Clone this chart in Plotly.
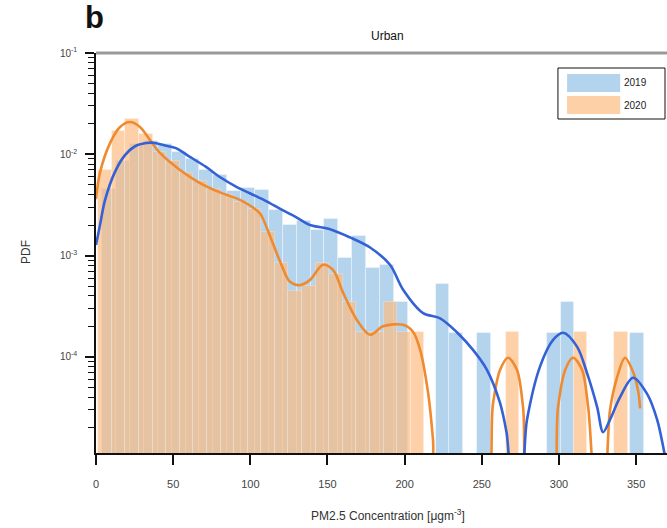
import plotly.graph_objects as go

# ---------------- data ----------------
# 2019 histogram (bin centres, bin width, density)
bins_2019 = [8.5, 17.5, 26.5, 35.5, 44.5, 53.5, 62.5, 71.5, 80.5, 89.5, 98.5, 107.5,
             116.5, 125.5, 134.5, 143.5, 152.5, 161.5, 170.5, 179.5, 188.5, 197.5,
             206.5, 215.5, 224.5, 233.5, 242.5, 251.5, 260.5, 269.5, 278.5, 287.5,
             296.5, 305.5, 314.5, 323.5, 332.5, 341.5, 350.5]
pdf_2019 = [4.5e-3, 8.5e-3, 1.25e-2, 1.35e-2, 1.25e-2, 1.05e-2, 9.0e-3, 7.0e-3, 6.2e-3,
            4.3e-3, 4.6e-3, 4.4e-3, 2.8e-3, 2.0e-3, 2.2e-3, 1.8e-3, 2.3e-3, 9.5e-4,
            1.55e-3, 7.5e-4, 8.0e-4, 3.5e-4, 0, 0, 5.2e-4, 1.72e-4, 0, 1.72e-4, 0, 0,
            0, 0, 1.72e-4, 3.45e-4, 0, 0, 0, 0, 1.72e-4]
width_2019 = 9.0

# 2020 histogram
bins_2020 = [5.9, 14.7, 23.5, 32.3, 41.1, 49.9, 58.7, 67.5, 76.3, 85.1, 93.9, 102.7,
             111.5, 120.3, 129.1, 137.9, 146.7, 155.5, 164.3, 173.1, 181.9, 190.7,
             199.5, 208.3, 217.1, 225.9, 234.7, 243.5, 252.3, 261.1, 269.9, 278.7,
             287.5, 296.3, 305.1, 313.9, 322.7, 331.5, 340.3]
pdf_2020 = [7.0e-3, 1.7e-2, 2.25e-2, 1.6e-2, 1.05e-2, 8.5e-3, 6.5e-3, 5.4e-3, 4.5e-3,
            4.0e-3, 3.4e-3, 2.9e-3, 1.7e-3, 8.5e-4, 4.5e-4, 5.0e-4, 8.5e-4, 6.5e-4,
            3.5e-4, 1.74e-4, 1.74e-4, 3.5e-4, 1.74e-4, 1.74e-4, 0, 0, 0, 0, 0, 0,
            1.74e-4, 0, 0, 0, 0, 1.74e-4, 0, 0, 1.74e-4]
width_2020 = 8.8

# KDE curves
kde_x_2019 = [0, 2.6, 5.8, 12.3, 18.8, 25.3, 32.4, 37, 44.7, 51.8, 60, 71.3, 80, 90.7,
              100, 110.2, 120, 129.6, 138.7, 151.7, 164.6, 177.6, 190.5, 199, 212,
              223, 234, 244.3, 253.4, 261.8, 266, 270, 275, 279.3, 287.7, 296.2,
              302.7, 311.7, 318.2, 324.7, 328.6, 333.1, 339.6, 348, 357.1, 363.6,
              367.5, 370]
kde_y_2019 = [1.27e-3, 2.0e-3, 3.5e-3, 6.7e-3, 9.8e-3, 1.2e-2, 1.29e-2, 1.3e-2,
              1.22e-2, 1.15e-2, 9.6e-3, 7.5e-3, 6.0e-3, 4.8e-3, 4.1e-3, 3.45e-3,
              2.85e-3, 2.4e-3, 2.0e-3, 1.82e-3, 1.51e-3, 1.2e-3, 8.1e-4, 4.6e-4,
              2.7e-4, 2.4e-4, 1.74e-4, 1.17e-4, 7.4e-5, 3.5e-5, 1.8e-5, 7e-6, 7e-6,
              2.4e-5, 8.0e-5, 1.47e-4, 1.73e-4, 1.26e-4, 6.9e-5, 3.2e-5, 1.8e-5,
              2.4e-5, 4.0e-5, 6.2e-5, 4.3e-5, 2.4e-5, 1.3e-5, 8e-6]

kde_x_2020 = [0, 2.6, 9.1, 15.6, 22, 28.5, 35, 41.5, 54.4, 67.4, 80.4, 93.3, 100,
              106.3, 112.8, 119.2, 125.7, 132.2, 138.7, 147.1, 153.6, 160.1, 169.1,
              177.6, 186, 199, 205.4, 210, 215.2, 218.4, 221.5, 250, 257.3, 261.8,
              267, 272.8, 276.7, 282, 294, 299.4, 304, 309.1, 315, 318.9, 325.5,
              328, 333.1, 337.7, 342.8, 348, 351.3, 352.6]
kde_y_2020 = [3.6e-3, 6.6e-3, 1.29e-2, 1.86e-2, 2.08e-2, 1.86e-2, 1.38e-2, 1.03e-2,
              7.0e-3, 5.2e-3, 4.2e-3, 3.55e-3, 3.1e-3, 2.6e-3, 1.55e-3, 8.8e-4,
              5.5e-4, 5.1e-4, 5.75e-4, 8.1e-4, 7.2e-4, 4.3e-4, 2.3e-4, 1.65e-4,
              2.0e-4, 2.07e-4, 1.77e-4, 1.18e-4, 4.4e-5, 1.5e-5, 3e-6, 3e-6, 3.5e-5,
              7.4e-5, 9.8e-5, 7.4e-5, 3.2e-5, 3e-6, 3e-6, 3.2e-5, 7.4e-5, 9.8e-5,
              7.4e-5, 3.2e-5, 3e-6, 3e-6, 3.0e-5, 6.3e-5, 9.8e-5, 7.1e-5, 4.6e-5,
              3.1e-5]

x_ticks = [0, 50, 100, 150, 200, 250, 300, 350]
y_ticks = [1e-4, 1e-3, 1e-2, 1e-1]
y_tick_text = ["10<sup>-4</sup>", "10<sup>-3</sup>", "10<sup>-2</sup>", "10<sup>-1</sup>"]
series_names = ["2019", "2020"]

# ---------------- styles ----------------
BAR_BLUE = "rgb(180,212,237)"
BAR_ORANGE = "rgba(252,186,127,0.68)"
LINE_BLUE = "#3461d6"
LINE_ORANGE = "#ef8a2f"
FONT = "Liberation Sans, Arial, sans-serif"


def nz(vals):
    return [v if v > 0 else None for v in vals]


fig = go.Figure()
fig.add_trace(go.Bar(x=bins_2019, y=nz(pdf_2019), width=width_2019,
                     marker=dict(color=BAR_BLUE, line=dict(color="rgba(255,255,255,0.45)", width=0.8)),
                     name=series_names[0], showlegend=False))
fig.add_trace(go.Bar(x=bins_2020, y=nz(pdf_2020), width=width_2020,
                     marker=dict(color=BAR_ORANGE, line=dict(color="rgba(255,255,255,0.35)", width=0.8)),
                     name=series_names[1], showlegend=False))
fig.add_trace(go.Scatter(x=kde_x_2020, y=kde_y_2020, mode="lines",
                         line=dict(color=LINE_ORANGE, width=2.6, shape="spline", smoothing=0.9),
                         showlegend=False, hoverinfo="skip"))
fig.add_trace(go.Scatter(x=kde_x_2019, y=kde_y_2019, mode="lines",
                         line=dict(color=LINE_BLUE, width=2.6, shape="spline", smoothing=0.9),
                         showlegend=False, hoverinfo="skip"))

minor_vals = [m * 10 ** e for e in range(-5, -1) for m in range(2, 10)]

fig.update_layout(
    width=667, height=528,
    margin=dict(l=96, r=0, t=53, b=75),
    paper_bgcolor="white", plot_bgcolor="white",
    barmode="overlay", bargap=0,
    font=dict(family=FONT, color="#222"),
    showlegend=False,
    xaxis=dict(range=[0, 370], tickmode="array", tickvals=x_ticks,
               ticks="outside", ticklen=10, tickwidth=1.5, tickcolor="#111",
               showline=True, linecolor="#111", linewidth=1.5,
               showgrid=False, zeroline=False,
               tickfont=dict(size=11, color="#444"), ticklabelstandoff=10),
    yaxis=dict(type="log", range=[-4.95, -1], tickmode="array",
               tickvals=y_ticks, ticktext=y_tick_text,
               ticks="outside", ticklen=9, tickwidth=1.5, tickcolor="#111",
               minor=dict(tickmode="array", tickvals=minor_vals, ticks="outside",
                          ticklen=6, tickwidth=1.2, tickcolor="#111", showgrid=False),
               showline=True, linecolor="#111", linewidth=1.5,
               showgrid=False, zeroline=False,
               tickfont=dict(size=10, color="#444"), ticklabelstandoff=6),
)

# top strip line
fig.add_shape(type="line", xref="paper", yref="paper", x0=0, x1=1, y0=1, y1=1,
              line=dict(color="#9a9a9a", width=3))

# custom legend
fig.add_shape(type="rect", xref="paper", yref="paper", x0=0.809, x1=0.9965,
              y0=0.835, y1=0.9625, line=dict(color="#111", width=1), fillcolor="white")
fig.add_shape(type="rect", xref="paper", yref="paper", x0=0.825, x1=0.918,
              y0=0.9025, y1=0.9475, line=dict(width=0), fillcolor=BAR_BLUE)
fig.add_shape(type="rect", xref="paper", yref="paper", x0=0.825, x1=0.918,
              y0=0.8475, y1=0.8925, line=dict(width=0), fillcolor=BAR_ORANGE)
for label, yy in zip(series_names, [0.925, 0.87]):
    fig.add_annotation(text=label, xref="paper", yref="paper", x=0.922, y=yy,
                       xanchor="left", yanchor="middle", showarrow=False,
                       font=dict(size=10, color="#222"))

# titles
fig.add_annotation(text="<b>b</b>", xref="paper", yref="paper", x=-0.002, y=1.04,
                   xanchor="center", yanchor="bottom", showarrow=False,
                   font=dict(size=31, color="#111"))
fig.add_annotation(text="Urban", xref="paper", yref="paper", x=0.511, y=1.02,
                   xanchor="center", yanchor="bottom", showarrow=False,
                   font=dict(size=12, color="#111"))
fig.add_annotation(text="PDF", xref="paper", yref="paper", x=-0.1226, y=0.5025,
                   xanchor="center", yanchor="middle", textangle=-90, showarrow=False,
                   font=dict(size=12, color="#333"))
fig.add_annotation(text="PM2.5 Concentration [μgm<sup>-3</sup>]", xref="paper", yref="paper",
                   x=0.511, y=-0.155, xanchor="center", yanchor="middle", showarrow=False,
                   font=dict(size=12, color="#333"))

fig.write_html("out.html", config={"displayModeBar": False},
               post_script="document.body.style.margin='0px';document.body.style.overflow='hidden';")
